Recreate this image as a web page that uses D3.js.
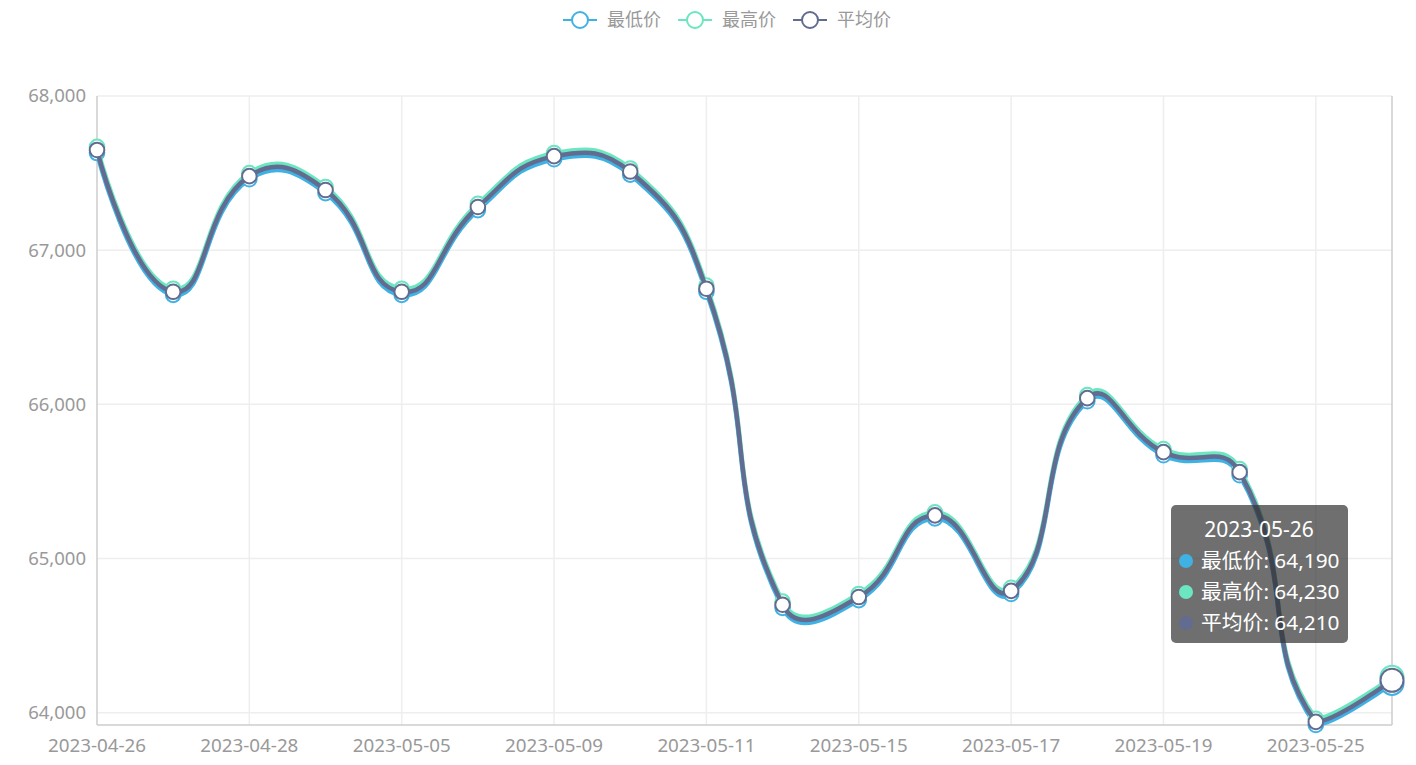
<!DOCTYPE html>
<html><head><meta charset="utf-8">
<script src="https://cdn.jsdelivr.net/npm/d3@7/dist/d3.min.js"></script>
<style>
html,body{margin:0;padding:0;background:#fff;}
svg{display:block;font-family:"Noto Sans","Noto Sans CJK SC",sans-serif;}
</style></head>
<body>
<svg id="chart" width="1416" height="765"></svg>
<script>
const categories = ['2023-04-26','2023-04-27','2023-04-28','2023-05-04','2023-05-05','2023-05-08','2023-05-09','2023-05-10','2023-05-11','2023-05-12','2023-05-15','2023-05-16','2023-05-17','2023-05-18','2023-05-19','2023-05-22','2023-05-25','2023-05-26'];
const lowPrice  = [67630,66710,67460,67370,66710,67260,67590,67490,66730,64680,64730,65260,64770,66020,65670,65540,63920,64190];
const highPrice = [67670,66750,67500,67410,66750,67300,67630,67530,66770,64720,64770,65300,64810,66060,65710,65580,63960,64230];
const avgPrice  = [67650,66730,67480,67390,66730,67280,67610,67510,66750,64700,64750,65280,64790,66040,65690,65560,63940,64210];
const seriesNames = ['最低价','最高价','平均价'];
const yTicks = [64000,65000,66000,67000,68000];
const tooltipDate = '2023-05-26';

const colors = ['#3fb1e3','#6be6c1','#626c91'];
const seriesData = [lowPrice, highPrice, avgPrice];

const svg = d3.select('#chart');
const L = 97, R = 1392, T = 96, B = 725;
const x = d3.scalePoint().domain(categories).range([L, R]).padding(0);
const yMin = d3.min(lowPrice);
const y = d3.scaleLinear().domain([yMin, 68000]).range([B, T]);

// horizontal split lines
svg.append('g').selectAll('line').data(yTicks).join('line')
  .attr('x1', L).attr('x2', R).attr('y1', d => y(d)).attr('y2', d => y(d))
  .attr('stroke', '#eeeeee').attr('stroke-width', 1.5);
// vertical split lines (every other category)
const shown = categories.filter((c, i) => i % 2 === 0);
svg.append('g').selectAll('line').data(shown.slice(1)).join('line')
  .attr('x1', d => x(d)).attr('x2', d => x(d)).attr('y1', T).attr('y2', B)
  .attr('stroke', '#eeeeee').attr('stroke-width', 1.5);

// axis lines
svg.append('line').attr('x1', L).attr('x2', L).attr('y1', T).attr('y2', B).attr('stroke', '#cccccc').attr('stroke-width', 1.5);
svg.append('line').attr('x1', L).attr('x2', R).attr('y1', B).attr('y2', B).attr('stroke', '#cccccc').attr('stroke-width', 1.5);
// axis pointer
svg.append('line').attr('x1', x(tooltipDate)).attr('x2', x(tooltipDate)).attr('y1', T).attr('y2', B).attr('stroke', '#cccccc').attr('stroke-width', 1.5);

// y labels
const fmt = d3.format(',');
svg.append('g').selectAll('text').data(yTicks).join('text')
  .attr('x', 86).attr('y', d => y(d)).attr('dy', '0.35em')
  .attr('text-anchor', 'end').attr('fill', '#999999').attr('font-size', 18.5)
  .text(d => fmt(d));
// x labels
svg.append('g').selectAll('text').data(shown).join('text')
  .attr('x', d => x(d)).attr('y', 752)
  .attr('text-anchor', 'middle').attr('fill', '#999999').attr('font-size', 18.8)
  .text(d => d);

// ECharts v4-like smooth path
function smoothPath(pts, smooth) {
  const p = d3.path();
  const xs = pts.map(d => d[0]), ys = pts.map(d => d[1]);
  const minX = d3.min(xs), maxX = d3.max(xs), minY = d3.min(ys), maxY = d3.max(ys);
  const clampX = v => Math.max(minX, Math.min(maxX, v));
  const clampY = v => Math.max(minY, Math.min(maxY, v));
  let cp0 = pts[0].slice();
  p.moveTo(pts[0][0], pts[0][1]);
  for (let i = 1; i < pts.length; i++) {
    const pt = pts[i], prev = pts[i - 1], next = pts[i + 1];
    let cp1, ratio = 0.5, v = [0, 0];
    if (!next) { cp1 = pt.slice(); }
    else {
      v = [next[0] - prev[0], next[1] - prev[1]];
      const d0 = Math.hypot(pt[0] - prev[0], pt[1] - prev[1]);
      const d1 = Math.hypot(next[0] - pt[0], next[1] - pt[1]);
      ratio = d1 / (d0 + d1);
      cp1 = [pt[0] - v[0] * smooth * (1 - ratio), pt[1] - v[1] * smooth * (1 - ratio)];
    }
    cp0 = [clampX(cp0[0]), clampY(cp0[1])];
    cp1 = [clampX(cp1[0]), clampY(cp1[1])];
    p.bezierCurveTo(cp0[0], cp0[1], cp1[0], cp1[1], pt[0], pt[1]);
    cp0 = [pt[0] + v[0] * smooth * ratio, pt[1] + v[1] * smooth * ratio];
  }
  return p.toString();
}

seriesData.forEach((data, si) => {
  const pts = data.map((v, i) => [x(categories[i]), y(v)]);
  const g = svg.append('g');
  g.append('path').attr('d', smoothPath(pts, 0.5))
    .attr('fill', 'none').attr('stroke', colors[si]).attr('stroke-width', 4.5)
    .attr('stroke-linejoin', 'round');
  g.selectAll('circle').data(data).join('circle')
    .attr('cx', (d, i) => x(categories[i])).attr('cy', d => y(d))
    .attr('r', (d, i) => categories[i] === tooltipDate ? 11.5 : 7.3)
    .attr('fill', '#fff').attr('stroke', colors[si]).attr('stroke-width', 2);
});

// legend
const legendX = [563, 678, 793];
const lg = svg.append('g');
seriesNames.forEach((n, i) => {
  const gx = legendX[i];
  lg.append('line').attr('x1', gx).attr('x2', gx + 34).attr('y1', 20).attr('y2', 20)
    .attr('stroke', colors[i]).attr('stroke-width', 2);
  lg.append('circle').attr('cx', gx + 17).attr('cy', 20).attr('r', 8)
    .attr('fill', '#fff').attr('stroke', colors[i]).attr('stroke-width', 2);
  lg.append('text').attr('x', gx + 44).attr('y', 20).attr('dy', '0.35em')
    .attr('fill', '#999999').attr('font-size', 18).text(n);
});

// tooltip
const idx = categories.indexOf(tooltipDate);
const tg = svg.append('g');
tg.append('rect').attr('x', 1171).attr('y', 505).attr('width', 177).attr('height', 138).attr('rx', 5)
  .attr('fill', 'rgba(50,50,50,0.7)');
tg.append('text').attr('x', 1259).attr('y', 537).attr('text-anchor', 'middle')
  .attr('fill', '#fff').attr('font-size', 21).text(tooltipDate);
seriesNames.forEach((n, i) => {
  const ry = 561 + i * 31;
  tg.append('circle').attr('cx', 1186).attr('cy', ry).attr('r', 7).attr('fill', colors[i]);
  tg.append('text').attr('x', 1201).attr('y', ry).attr('dy', '0.36em')
    .attr('fill', '#fff').attr('font-size', 20.8).text(n + ': ' + fmt(seriesData[i][idx]));
});
</script>
</body></html>
